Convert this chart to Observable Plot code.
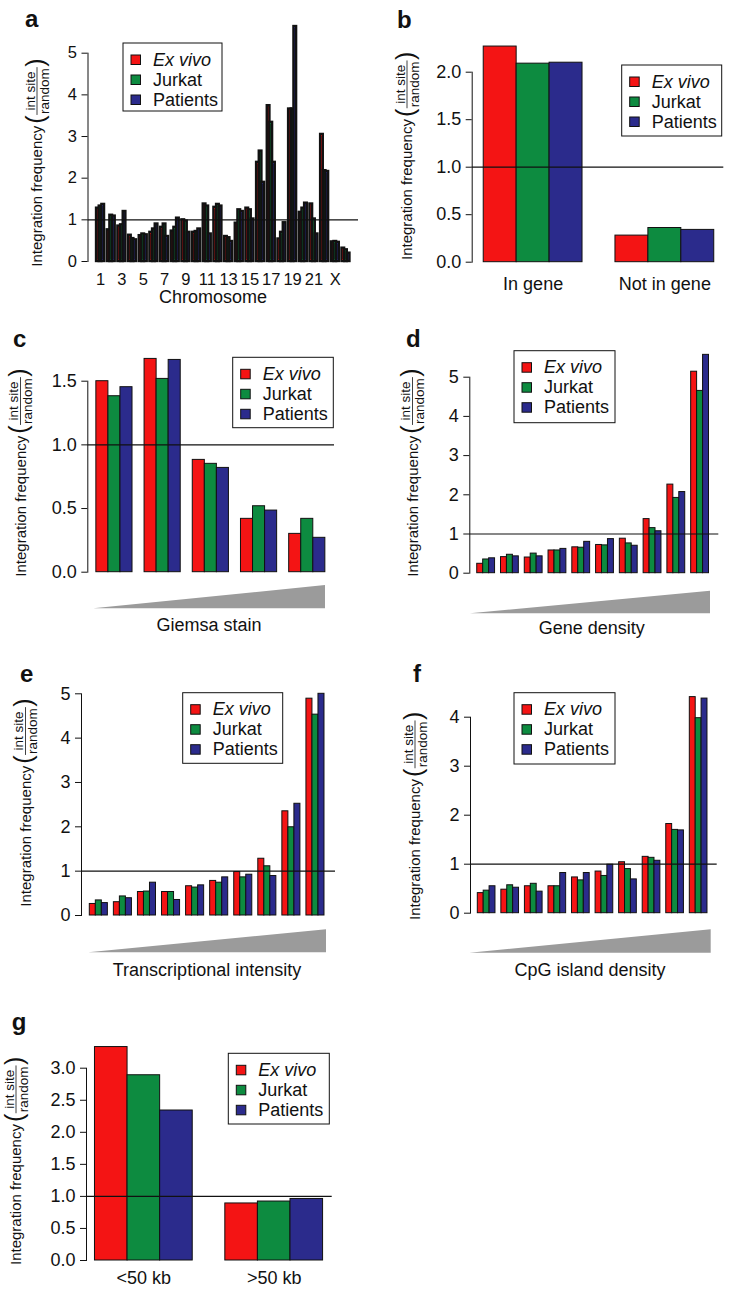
<!DOCTYPE html>
<html><head><meta charset="utf-8">
<script src="https://cdn.jsdelivr.net/npm/d3@7"></script>
<script src="https://cdn.jsdelivr.net/npm/@observablehq/plot@0.6"></script>
<style>
html,body{margin:0;padding:0;background:#fff;}
#page{position:relative;width:733px;height:1293px;overflow:hidden;background:#fff;}
</style></head>
<body><div id="page"></div>
<script>
// ---------- data ----------
const seriesNames = ["Ex vivo", "Jurkat", "Patients"];
const seriesColors = ["#f41414", "#0d8b40", "#2b2b8c"];

const chromosomes = ["1","2","3","4","5","6","7","8","9","10","11","12","13","14","15","16","17","18","19","20","21","22","X","Y"];
const chromExVivo   = [1.28,0.76,0.85,0.63,0.62,0.70,0.82,0.73,1.00,0.70,1.38,1.30,0.60,0.92,1.28,2.38,3.74,0.54,3.66,1.18,1.38,3.05,0.47,0.32];
const chromJurkat   = [1.33,1.11,0.88,0.55,0.66,0.78,0.90,0.82,0.97,0.72,1.33,1.37,0.57,1.24,1.24,2.65,3.34,0.70,3.66,1.28,1.02,2.18,0.48,0.28];
const chromPatients = [1.37,1.09,1.20,0.52,0.64,0.90,0.60,1.04,0.70,0.78,0.66,1.33,0.48,1.20,1.02,1.90,2.38,0.93,5.64,1.40,0.66,2.16,0.46,0.20];

const geneCats = ["In gene", "Not in gene"];
const geneExVivo = [2.27, 0.28];
const geneJurkat = [2.09, 0.36];
const genePatients = [2.10, 0.34];

const giemsaBins = ["1","2","3","4","5"];
const giemsaExVivo = [1.50, 1.675, 0.882, 0.419, 0.301];
const giemsaJurkat = [1.382, 1.518, 0.851, 0.518, 0.419];
const giemsaPatients = [1.453, 1.667, 0.819, 0.484, 0.270];

const densityBins = ["1","2","3","4","5","6","7","8","9","10"];
const geneDensExVivo = [0.24,0.41,0.40,0.58,0.66,0.72,0.88,1.38,2.26,5.14];
const geneDensJurkat = [0.35,0.47,0.50,0.58,0.65,0.71,0.76,1.15,1.92,4.65];
const geneDensPatients = [0.38,0.43,0.43,0.62,0.80,0.87,0.70,1.07,2.07,5.57];

const transcExVivo = [0.26,0.30,0.53,0.53,0.66,0.78,0.98,1.28,2.35,4.89];
const transcJurkat = [0.34,0.43,0.54,0.53,0.63,0.74,0.86,1.11,1.99,4.53];
const transcPatients = [0.28,0.39,0.74,0.35,0.68,0.86,0.92,0.89,2.52,5.00];

const cpgExVivo = [0.41,0.48,0.55,0.55,0.73,0.85,1.04,1.15,1.82,4.41];
const cpgJurkat = [0.46,0.57,0.60,0.55,0.67,0.76,0.90,1.13,1.70,3.98];
const cpgPatients = [0.55,0.52,0.44,0.82,0.82,0.99,0.69,1.07,1.69,4.38];

const distCats = ["<50 kb", ">50 kb"];
const distExVivo = [3.33, 0.89];
const distJurkat = [2.89, 0.92];
const distPatients = [2.34, 0.96];

const ticksA = [0,1,2,3,4,5];
const ticksB = [0,0.5,1,1.5,2];
const ticksC = [0,0.5,1,1.5];
const ticksD = [0,1,2,3,4,5];
const ticksE = [0,1,2,3,4,5];
const ticksF = [0,1,2,3,4];
const ticksG = [0,0.5,1,1.5,2,2.5,3];
const intFmt = d => String(d);
const decFmt = d => d.toFixed(1);

const panelData = {
  a: {cats: chromosomes, values: [chromExVivo, chromJurkat, chromPatients], yTicks: ticksA, yFmt: intFmt, xLabels: true, labelEvery: 2},
  b: {cats: geneCats, values: [geneExVivo, geneJurkat, genePatients], yTicks: ticksB, yFmt: decFmt, xLabels: true, labelEvery: 1},
  c: {cats: giemsaBins, values: [giemsaExVivo, giemsaJurkat, giemsaPatients], yTicks: ticksC, yFmt: decFmt, xLabels: false},
  d: {cats: densityBins, values: [geneDensExVivo, geneDensJurkat, geneDensPatients], yTicks: ticksD, yFmt: intFmt, xLabels: false},
  e: {cats: densityBins, values: [transcExVivo, transcJurkat, transcPatients], yTicks: ticksE, yFmt: intFmt, xLabels: false},
  f: {cats: densityBins, values: [cpgExVivo, cpgJurkat, cpgPatients], yTicks: ticksF, yFmt: intFmt, xLabels: false},
  g: {cats: distCats, values: [distExVivo, distJurkat, distPatients], yTicks: ticksG, yFmt: decFmt, xLabels: true, labelEvery: 1}
};

// ---------- layout (page pixels) ----------
const layout = [
  {key:"a", col:0, top:0,   h:306, axisX:87.5,  lineEnd:358,   y0:261,   yTopPx:52.7,   padL:3.2,  padR:3.2,  letter:[25,27],     yLab:[42,266.7],  legend:[123,43,99,68],        title:["Chromosome",213,303], xTickPad:12.2, tickFont:16.5, barStroke:2.4, tri:null},
  {key:"b", col:1, top:0,   h:306, axisX:471.7, lineEnd:723.3, y0:261.7, yTopPx:71.7,   padL:0.35, padR:0.29, letter:[397,28],    yLab:[412,260],   legend:[621.7,65,100,71],     title:null, xTickPad:15.5, tickFont:18, barStroke:1, tri:null},
  {key:"c", col:0, top:306, h:339, axisX:87.3,  lineEnd:334,   y0:571.7, yTopPx:380.7,  padL:0.71, padR:0.76, letter:[13,347],     yLab:[25.5,576.7],legend:[232.7,357.3,100.6,70.4], title:["Giemsa stain",209,631], tickFont:18, barStroke:1, tri:[93.3,325,608.3,585]},
  {key:"d", col:1, top:306, h:339, axisX:469.3, lineEnd:718.3, y0:572.7, yTopPx:376.7,  padL:1.25, padR:1.65, letter:[406,346.7], yLab:[417.5,576.7],legend:[514,350.7,101,72],  title:["Gene density",591.7,634], tickFont:18, barStroke:1, tri:[470,710,613.3,590.7]},
  {key:"e", col:0, top:645, h:340, axisX:81,    lineEnd:335,   y0:915,   yTopPx:693.3,  padL:1.38, padR:1.83, letter:[20,681.7],  yLab:[30.5,906.7],legend:[182.7,692.7,100,70.6], title:["Transcriptional intensity",207,976], tickFont:18, barStroke:1, tri:[88.3,326,952.3,929.3]},
  {key:"f", col:1, top:645, h:340, axisX:470,   lineEnd:716.7, y0:912.7, yTopPx:716.7,  padL:1.24, padR:1.65, letter:[413,681.7], yLab:[420,920],   legend:[514,692.7,101,71.3],  title:["CpG island density",590,976], tickFont:18, barStroke:1, tri:[469.3,710.7,952.7,929.3]},
  {key:"g", col:0, top:985, h:308, axisX:86,    lineEnd:331.7, y0:1260,  yTopPx:1067.7, padL:0.26, padR:0.28, letter:[11.7,1030], yLab:[21,1265],   legend:[228.3,1053.3,101,70.7], title:null, xTickPad:10.5, tickFont:18, barStroke:1, tri:null}
];

const FONT = "'Liberation Sans', Arial, Helvetica, sans-serif";
const INK = "#111";
const page = document.getElementById("page");

function txt(sel) { return sel.append("text").attr("text-anchor", "start").attr("fill", INK); }

function yLabel(svg, bx, by) {
  const g = svg.append("g").attr("transform", `translate(${bx},${by}) rotate(-90)`).attr("text-anchor", "start");
  const main = txt(g).attr("x", 0).attr("y", 0).attr("font-size", 15).text("Integration frequency");
  const L = main.node().getComputedTextLength();
  const line = -5;
  const fs = 13.5;
  const px = L + 2;
  const p1 = txt(g).attr("x", px).attr("y", line + 6.6).attr("font-size", 25).text("(");
  const pw = p1.node().getComputedTextLength();
  const fx = px + pw + 0.5;
  const num = txt(g).attr("font-size", fs).text("int site");
  const den = txt(g).attr("font-size", fs).text("random");
  const fw = Math.max(num.node().getComputedTextLength(), den.node().getComputedTextLength()) + 2;
  num.attr("x", fx + fw / 2).attr("text-anchor", "middle").attr("y", line - 2.5);
  den.attr("x", fx + fw / 2).attr("text-anchor", "middle").attr("y", line + 2 + fs * 0.73);
  g.append("line").attr("x1", fx).attr("x2", fx + fw).attr("y1", line).attr("y2", line).attr("stroke", INK).attr("stroke-width", 0.8);
  txt(g).attr("x", fx + fw + 0.5).attr("y", line + 6.6).attr("font-size", 25).text(")");
}

function legend(svg, x, y, w, h) {
  const g = svg.append("g");
  g.append("rect").attr("x", x).attr("y", y).attr("width", w).attr("height", h).attr("fill", "#fff").attr("stroke", INK).attr("stroke-width", 1);
  seriesNames.forEach((name, i) => {
    const by = y + 22.5 + i * 20;
    g.append("rect").attr("x", x + 8).attr("y", by - 10.5).attr("width", 9.5).attr("height", 9.5)
      .attr("fill", seriesColors[i]).attr("stroke", INK).attr("stroke-width", 1);
    txt(g).attr("x", x + 30).attr("y", by).attr("font-size", 18)
      .attr("font-style", i === 0 ? "italic" : "normal").text(name);
  });
}

for (const p of layout) {
  const d = panelData[p.key];
  const colX = p.col === 0 ? 0 : 366;
  const W = p.col === 0 ? 366 : 367;
  const n = d.cats.length;
  const last = n * 4 - 1;
  const rows = [];
  d.values.forEach((arr, s) => arr.forEach((v, i) => rows.push({cat: d.cats[i], series: seriesNames[s], x1: i * 4 + s, x2: i * 4 + s + 1, v})));

  let xOpts = {domain: [-p.padL, last + p.padR]};
  if (d.xLabels) {
    const ticks = d.cats.map((c, i) => i).filter(i => i % d.labelEvery === 0).map(i => i * 4 + 1.5);
    xOpts = {...xOpts, ticks, tickFormat: v => d.cats[Math.round((v - 1.5) / 4)], tickSize: 0, tickPadding: p.xTickPad, label: null};
  } else {
    xOpts = {...xOpts, axis: null};
  }
  const node = Plot.plot({
    width: W, height: p.h,
    marginLeft: p.axisX - colX,
    marginRight: W - (p.lineEnd - colX),
    marginTop: p.yTopPx - p.top,
    marginBottom: p.h - (p.y0 - p.top),
    x: xOpts,
    y: {domain: [0, d.yTicks[d.yTicks.length - 1]], ticks: d.yTicks, tickFormat: d.yFmt, tickSize: 6, tickPadding: 5, line: true, label: null},
    color: {domain: seriesNames, range: seriesColors},
    style: {fontFamily: FONT, fontSize: p.tickFont + "px", color: INK, background: "transparent", overflow: "visible",
            position: "absolute", left: colX + "px", top: p.top + "px", maxWidth: "none"},
    marks: [
      Plot.rect(rows, {x1: "x1", x2: "x2", y1: () => 0, y2: "v", fill: "series", stroke: INK, strokeWidth: p.barStroke}),
      Plot.ruleY([1], {stroke: INK, strokeWidth: 1.2})
    ]
  });
  page.appendChild(node);
  const svg = d3.select(node);
  const L = (x) => x - colX, T = (y) => y - p.top;

  if (p.tri) {
    const [x1, x2, yb, yt] = p.tri;
    svg.append("polygon").attr("points", `${L(x1)},${T(yb)} ${L(x2)},${T(yt)} ${L(x2)},${T(yb)}`).attr("fill", "#9b9b9b");
  }
  txt(svg).attr("x", L(p.letter[0])).attr("y", T(p.letter[1])).attr("font-size", 24).attr("font-weight", "bold").text(p.key);
  yLabel(svg, L(p.yLab[0]), T(p.yLab[1]));
  legend(svg, L(p.legend[0]), T(p.legend[1]), p.legend[2], p.legend[3]);
  if (p.title) {
    txt(svg).attr("x", L(p.title[1])).attr("y", T(p.title[2])).attr("text-anchor", "middle").attr("font-size", 18).text(p.title[0]);
  }
}
</script>
</body></html>
